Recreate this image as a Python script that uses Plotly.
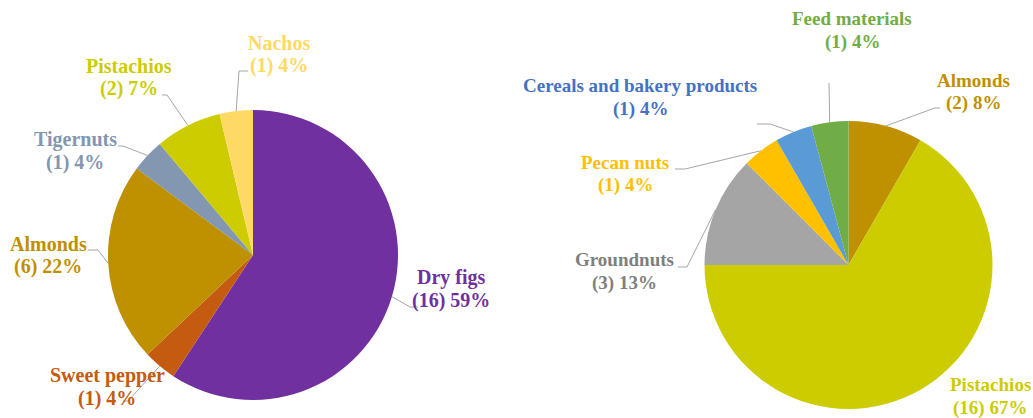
import math
import plotly.graph_objects as go

W, H = 1033, 418

# ---- data -------------------------------------------------------------
left_names = ["Dry figs", "Sweet pepper", "Almonds", "Tigernuts", "Pistachios", "Nachos"]
left_counts = [16, 1, 6, 1, 2, 1]

right_names = ["Almonds", "Pistachios", "Groundnuts", "Pecan nuts",
               "Cereals and bakery products", "Feed materials"]
right_counts = [2, 16, 3, 1, 1, 1]

# ---- styles -----------------------------------------------------------
left_fill = ["#7030A0", "#C55A11", "#BF9000", "#8497B0", "#CCCC00", "#FFD966"]
left_text = ["#7030A0", "#C55A11", "#BF9000", "#8497B0", "#CCCC00", "#FFD966"]
right_fill = ["#BF9000", "#CCCC00", "#A5A5A5", "#FFC000", "#5B9BD5", "#70AD47"]
right_text = ["#BF9000", "#CCCC00", "#7F7F7F", "#FFC000", "#4472C4", "#70AD47"]

FONT = "Liberation Serif"
LINE_GAP = 23          # distance between the two label lines (px)
LEADER_COLOR = "#A6A6A6"

# pie placement (pixel centre and radius) and label font size
left_geom = dict(cx=253, cy=255, r=145, size=20)
right_geom = dict(cx=848.5, cy=265, r=144, size=19)

# label block centres and leader-line bends (pixels)
left_label_xy = [(451, 289), (107, 387), (48, 255), (75, 151), (129, 77), (279, 54)]
left_leader = [[(410, 307), (418, 307)], [(128, 401), (123, 401)],
               [(98, 250), (88, 250)], [(123, 146), (118, 146)],
               [(167, 95), (162, 95)], [(239, 71), (248, 71)]]

right_label_xy = [(973, 92), (990, 396), (624, 271), (625, 174), (640, 97), (852, 30)]
right_leader = [[(935, 108), (940, 108)], None,
                [(687, 267), (678, 267)], [(685, 169), (675, 169)],
                [(770, 124), (757, 124)], [(829, 83)]]


def px(x, y):
    return x / W, 1 - y / H


def pct(v, total):
    return int(math.floor(100.0 * v / total + 0.5))


fig = go.Figure()
annotations = []
shapes = []


def add_pie(names, counts, fills, text_cols, geom, label_xy, leaders):
    cx, cy, r, size = geom["cx"], geom["cy"], geom["r"], geom["size"]
    fig.add_trace(go.Pie(
        labels=names, values=counts, sort=False, direction="clockwise",
        rotation=0, textinfo="none", hoverinfo="label+value+percent",
        marker=dict(colors=fills, line=dict(width=0)),
        domain=dict(x=[(cx - r) / W, (cx + r) / W],
                    y=[1 - (cy + r) / H, 1 - (cy - r) / H]),
        showlegend=False,
    ))
    total = sum(counts)
    cum = 0
    for name, v, col, (lx, ly), bends in zip(names, counts, text_cols, label_xy, leaders):
        theta = 2 * math.pi * (cum + v / 2) / total
        cum += v
        ex, ey = cx + r * math.sin(theta), cy - r * math.cos(theta)
        lines = [name, f"({v}) {pct(v, total)}%"]
        for i, txt in enumerate(lines):
            ax, ay = px(lx, ly + (i - 0.5) * LINE_GAP)
            annotations.append(dict(
                x=ax, y=ay, xref="paper", yref="paper", showarrow=False,
                xanchor="center", yanchor="middle", align="center",
                text=txt,
                font=dict(family=FONT, size=size, color=col, weight="bold"),
            ))
        if bends:
            pts = [(ex, ey)] + bends
            path = "M " + " L ".join(
                f"{px(x, y)[0]:.5f},{px(x, y)[1]:.5f}" for x, y in pts)
            shapes.append(dict(type="path", path=path, xref="paper", yref="paper",
                               line=dict(color=LEADER_COLOR, width=1)))


add_pie(left_names, left_counts, left_fill, left_text, left_geom,
        left_label_xy, left_leader)
add_pie(right_names, right_counts, right_fill, right_text, right_geom,
        right_label_xy, right_leader)

fig.update_layout(
    width=W, height=H,
    margin=dict(l=0, r=0, t=0, b=0),
    paper_bgcolor="white", plot_bgcolor="white",
    font=dict(family=FONT),
    annotations=annotations, shapes=shapes,
)

fig.write_html("out.html")
